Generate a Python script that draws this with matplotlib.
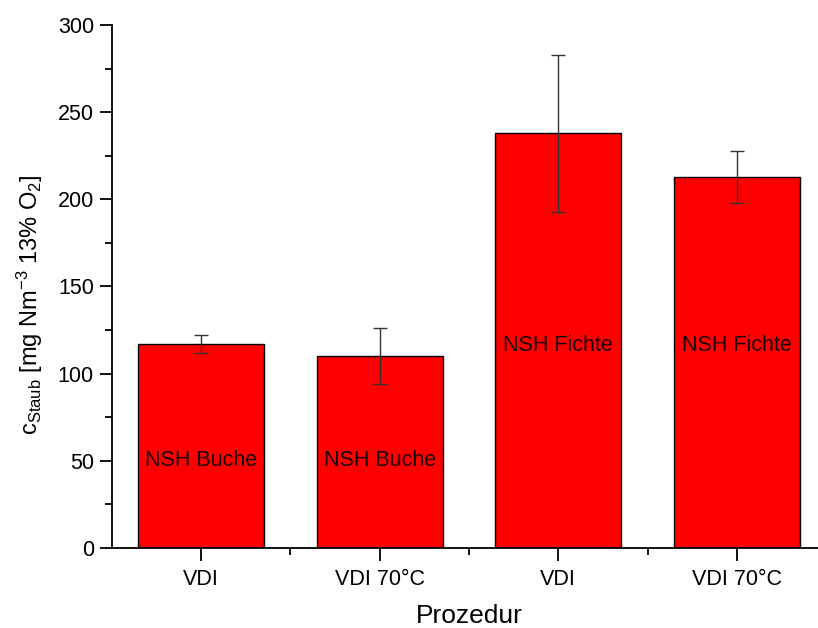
import matplotlib
matplotlib.use("Agg")
import matplotlib.pyplot as plt
from matplotlib.ticker import MultipleLocator, FixedLocator

plt.rcParams['font.family'] = ['Liberation Sans', 'DejaVu Sans']
plt.rcParams['mathtext.fontset'] = 'custom'
plt.rcParams['mathtext.rm'] = 'Liberation Sans'
plt.rcParams['mathtext.it'] = 'Liberation Sans:italic'

categories = ["VDI", "VDI 70°C", "VDI", "VDI 70°C"]
values = [117, 110, 238, 213]
errors = [5, 16, 45, 15]
fuel_labels = ["NSH Buche", "NSH Buche", "NSH Fichte", "NSH Fichte"]
label_heights = [50, 50, 116, 116]

fig = plt.figure(figsize=(8.18, 6.28), dpi=100)
ax = fig.add_axes([0.1369, 0.1274, 0.8729, 0.8328])

x = list(range(1, len(values) + 1))
ax.bar(x, values, width=0.706, color="#ff0000", edgecolor="black", linewidth=1.0, zorder=2)
ax.errorbar(x, values, yerr=errors, fmt="none", ecolor="#333333", elinewidth=1.0,
            capsize=5, capthick=1.0, zorder=3)

for xi, txt, h in zip(x, fuel_labels, label_heights):
    ax.text(xi, h, txt, ha="center", va="center", fontsize=15.5, color="#1a0000", zorder=4)

ax.set_xlim(0.5, 4.5)
ax.set_ylim(0, 300)
ax.set_xticks(x)
ax.set_xticklabels(categories)
ax.xaxis.set_minor_locator(FixedLocator([1.5, 2.5, 3.5]))
ax.yaxis.set_major_locator(MultipleLocator(50))
ax.yaxis.set_minor_locator(MultipleLocator(25))

for side in ("top", "right"):
    ax.spines[side].set_visible(False)
for side in ("left", "bottom"):
    ax.spines[side].set_linewidth(1.3)

ax.tick_params(axis="both", which="major", direction="out", length=9, width=1.3,
               labelsize=15.5, pad=4)
ax.tick_params(axis="x", which="major", pad=6)
ax.tick_params(axis="both", which="minor", direction="out", length=5, width=1.3)

ax.set_xlabel("Prozedur", fontsize=19)
ax.xaxis.set_label_coords(0.5, -0.108)
ax.set_ylabel(r"c$_{\mathrm{Staub}}$ [mg Nm$^{\mathrm{-3}}$ 13% O$_{\mathrm{2}}$]",
              fontsize=17)
ax.yaxis.set_label_coords(-0.094, 0.465)

fig.savefig("out.png", dpi=100)
